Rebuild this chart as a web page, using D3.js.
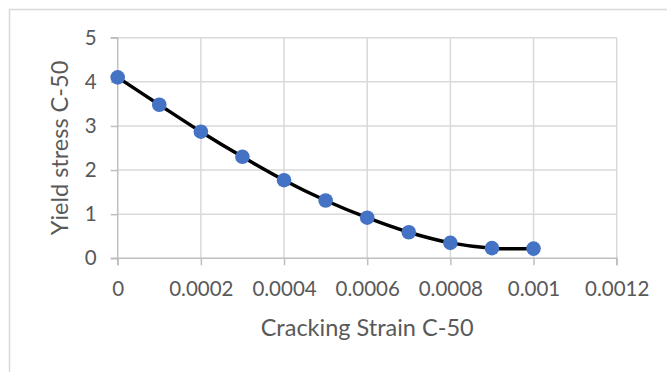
<!DOCTYPE html>
<html>
<head>
<meta charset="utf-8">
<script src="https://cdn.jsdelivr.net/npm/d3@7"></script>
<style>
  html, body { margin: 0; padding: 0; background: #fff; }
  svg { display: block; }
  text { font-family: Lato, "Open Sans", sans-serif; fill: #595959; }
</style>
</head>
<body>
<svg id="chart" width="667" height="372"></svg>
<script>
// Cracking strain (x) against yield stress (y) for C-50
const strain = [0, 0.0001, 0.0002, 0.0003, 0.0004, 0.0005, 0.0006, 0.0007, 0.0008, 0.0009, 0.001];
const stress = [4.1, 3.48, 2.87, 2.3, 1.77, 1.31, 0.92, 0.59, 0.35, 0.23, 0.22];
const xTicks = [0, 0.0002, 0.0004, 0.0006, 0.0008, 0.001, 0.0012];
const xTickLabels = ["0", "0.0002", "0.0004", "0.0006", "0.0008", "0.001", "0.0012"];
const yTicks = [0, 1, 2, 3, 4, 5];
const xTitle = "Cracking Strain C-50";
const yTitle = "Yield stress C-50";

const svg = d3.select("#chart");

// outer chart border (runs off the right and bottom edges)
svg.append("rect")
  .attr("x", 9.5).attr("y", 9.5)
  .attr("width", 720).attr("height", 420)
  .attr("fill", "#fff")
  .attr("stroke", "#d9d9d9")
  .attr("stroke-width", 1.5);

const plot = { left: 117.7, right: 616.7, top: 37.7, bottom: 258.3 };

const x = d3.scaleLinear().domain([0, 0.0012]).range([plot.left, plot.right]);
const y = d3.scaleLinear().domain([0, 5]).range([plot.bottom, plot.top]);

// gridlines
const grid = svg.append("g");
grid.selectAll("line.v").data(xTicks.slice(1)).join("line")
  .attr("x1", d => x(d)).attr("x2", d => x(d))
  .attr("y1", plot.top).attr("y2", plot.bottom)
  .attr("stroke", "#d9d9d9").attr("stroke-width", 1.5);
grid.selectAll("line.h").data(yTicks.slice(1)).join("line")
  .attr("x1", plot.left).attr("x2", plot.right)
  .attr("y1", d => y(d)).attr("y2", d => y(d))
  .attr("stroke", "#d9d9d9").attr("stroke-width", 1.5);

// axes
const xAxis = d3.axisBottom(x).tickValues(xTicks)
  .tickFormat((d, i) => xTickLabels[i]).tickSize(7).tickPadding(16);
const yAxis = d3.axisLeft(y).tickValues(yTicks)
  .tickFormat(d3.format("d")).tickSize(7).tickPadding(14);

const gx = svg.append("g").attr("transform", `translate(0,${plot.bottom})`).call(xAxis);
const gy = svg.append("g").attr("transform", `translate(${plot.left},0)`).call(yAxis);
[gx, gy].forEach(g => {
  g.select(".domain").attr("stroke", "#bfbfbf").attr("stroke-width", 1.5);
  g.selectAll(".tick line").attr("stroke", "#bfbfbf").attr("stroke-width", 1.5);
  g.selectAll(".tick text").attr("font-size", 20.5).attr("fill", "#595959")
    .style("font-family", "Lato, 'Open Sans', sans-serif");
});
gx.select(".domain").attr("d", `M${plot.left},7V0H${plot.right}V7`);
gy.select(".domain").attr("d", `M-7,${plot.top}H0V${plot.bottom}H-7`);

// axis titles
svg.append("text")
  .attr("x", (plot.left + plot.right) / 2).attr("y", 336)
  .attr("text-anchor", "middle").attr("font-size", 23.5)
  .text(xTitle);
svg.append("text")
  .attr("transform", `translate(68,${(plot.top + plot.bottom) / 2}) rotate(-90)`)
  .attr("text-anchor", "middle").attr("font-size", 23.5)
  .text(yTitle);

// smoothed series line
const pts = strain.map((s, i) => [s, stress[i]]);
const line = d3.line().x(d => x(d[0])).y(d => y(d[1])).curve(d3.curveCatmullRom.alpha(0.5));
svg.append("path").datum(pts)
  .attr("d", line)
  .attr("fill", "none").attr("stroke", "#000").attr("stroke-width", 3.5)
  .attr("stroke-linejoin", "round");

// markers
svg.append("g").selectAll("circle").data(pts).join("circle")
  .attr("cx", d => x(d[0])).attr("cy", d => y(d[1]))
  .attr("r", 7.3).attr("fill", "#4472c4");
</script>
</body>
</html>
